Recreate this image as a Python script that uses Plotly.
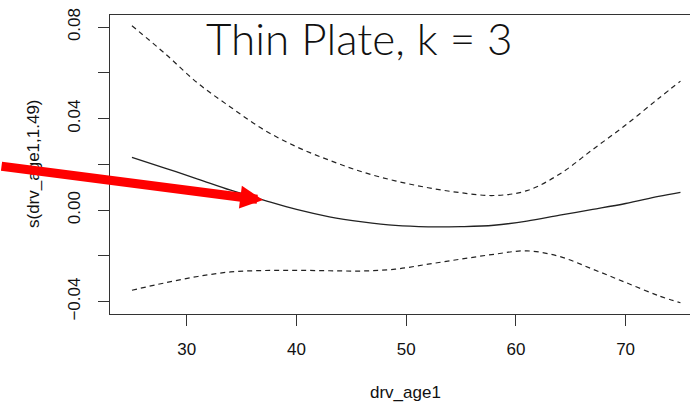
import plotly.graph_objects as go

age = [25, 28, 31, 34, 37, 40, 43, 46, 49, 52, 55, 58, 61, 64, 67, 70, 73, 75]
fit = [0.0231, 0.0184, 0.0136, 0.0087, 0.0044, 0.0003, -0.0029, -0.0051, -0.0067,
       -0.0073, -0.0072, -0.0066, -0.0048, -0.0022, 0.0003, 0.0029, 0.0060, 0.0078]
upper = [0.0806, 0.0685, 0.0555, 0.0450, 0.0352, 0.0277, 0.0218, 0.0167, 0.0128,
         0.0098, 0.0076, 0.0064, 0.0085, 0.0158, 0.0265, 0.0372, 0.0488, 0.0564]
lower = [-0.0350, -0.0318, -0.0290, -0.0270, -0.0264, -0.0263, -0.0265, -0.0266, -0.0258,
         -0.0236, -0.0214, -0.0193, -0.0178, -0.0203, -0.0258, -0.0316, -0.0374, -0.0405]

x_ticks = [30, 40, 50, 60, 70]
y_ticks = [-0.04, -0.02, 0.00, 0.02, 0.04, 0.06, 0.08]
y_labels = ["\u22120.04", "", "0.00", "", "0.04", "", "0.08"]

title_text = "Thin Plate, k = 3"
x_title = "drv_age1"
y_title = "s(drv_age1,1.49)"

fig = go.Figure()
fig.add_trace(go.Scatter(x=age, y=upper, mode="lines", line=dict(color="#222", width=1.2, dash="5px,4px", shape="spline")))
fig.add_trace(go.Scatter(x=age, y=lower, mode="lines", line=dict(color="#222", width=1.2, dash="5px,4px", shape="spline")))
fig.add_trace(go.Scatter(x=age, y=fit, mode="lines", line=dict(color="#222", width=1.3, shape="spline")))

tickfont = dict(family="Liberation Sans, Arial, sans-serif", size=17, color="#111")

fig.update_layout(
    width=690, height=404,
    margin=dict(l=110, r=0, t=15, b=90),
    paper_bgcolor="white", plot_bgcolor="white",
    showlegend=False,
    xaxis=dict(range=[23, 75.87], tickvals=x_ticks, ticks="outside", ticklen=11, tickwidth=1.2,
               tickcolor="#333", showline=True, linecolor="#333", linewidth=1.4, mirror=True,
               showgrid=False, zeroline=False, tickfont=tickfont, ticklabelstandoff=8),
    yaxis=dict(range=[-0.0454, 0.0853], tickvals=y_ticks, ticktext=y_labels, ticks="outside",
               ticklen=11, tickwidth=1.2, tickcolor="#333", showline=True, linecolor="#333",
               linewidth=1.4, showgrid=False, zeroline=False, tickfont=tickfont, tickangle=-90,
               ticklabelstandoff=11),
    annotations=[
        dict(text=title_text, xref="paper", yref="paper", x=(359.5 - 110) / 580, y=1 - (37.5 - 15) / 299,
             xanchor="center", yanchor="middle", showarrow=False,
             font=dict(family="Lato, sans-serif", size=44, color="#111", weight=300)),
        dict(text=x_title, xref="paper", yref="paper", x=(405 - 110) / 580, y=-(392 - 314) / 299,
             xanchor="center", yanchor="middle", showarrow=False, font=tickfont),
        dict(text=y_title, xref="paper", yref="paper", x=-(110 - 33) / 580, y=1 - (164 - 15) / 299,
             xanchor="center", yanchor="middle", showarrow=False, textangle=-90, font=tickfont),
        dict(x=36.96, y=0.0044, xref="x", yref="y", ax=-283, ay=-34, text="", showarrow=True,
             arrowhead=2, arrowsize=0.51, arrowwidth=9, arrowcolor="#ff0000", standoff=0),
    ],
)

fig.write_html("out.html", config={"displayModeBar": False},
               post_script="document.body.style.margin='0px';")
